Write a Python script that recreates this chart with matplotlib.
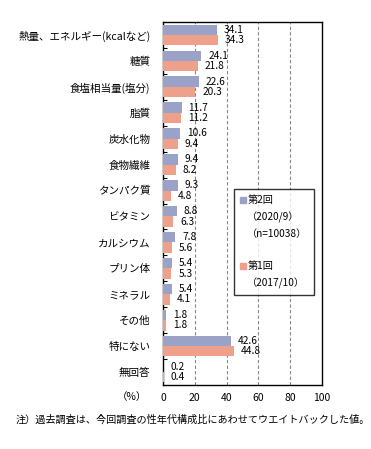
import matplotlib
matplotlib.use("Agg")
import matplotlib.pyplot as plt
from matplotlib.lines import Line2D
import numpy as np

plt.rcParams['font.family'] = ['Noto Sans CJK JP', 'DejaVu Sans']

categories = ["熱量、エネルギー(kcalなど)", "糖質", "食塩相当量(塩分)", "脂質", "炭水化物",
              "食物繊維", "タンパク質", "ビタミン", "カルシウム", "プリン体", "ミネラル",
              "その他", "特にない", "無回答"]
round2 = [34.1, 24.1, 22.6, 11.7, 10.6, 9.4, 9.3, 8.8, 7.8, 5.4, 5.4, 1.8, 42.6, 0.2]
round1 = [34.3, 21.8, 20.3, 11.2, 9.4, 8.2, 4.8, 6.3, 5.6, 5.3, 4.1, 1.8, 44.8, 0.4]
x_ticks = [0, 20, 40, 60, 80, 100]

blue = "#9BA2C8"
red = "#EFA08A"

fig = plt.figure(figsize=(3.71, 4.49), dpi=100)
ax = fig.add_axes([163 / 371, 1 - 385 / 449, 159 / 371, 363 / 449])

y = np.arange(len(categories))
h = 0.4
b2 = ax.barh(y - h / 2, round2, height=h, color=blue, zorder=3)
b1 = ax.barh(y + h / 2, round1, height=h, color=red, zorder=3)

for bars, vals in ((b2, round2), (b1, round1)):
    for bar, v in zip(bars, vals):
        ax.annotate(f"{v:.1f}", (bar.get_width(), bar.get_y() + bar.get_height() / 2),
                    xytext=(5, 0), textcoords="offset points", ha="left", va="center",
                    fontsize=7.3, color="black")

ax.set_xlim(0, 100)
ax.set_ylim(len(categories) - 0.5, -0.5)
ax.set_xticks(x_ticks)
ax.set_xticklabels([str(t) for t in x_ticks], fontsize=7.5)
ax.set_yticks(y)
ax.set_yticklabels(categories, fontsize=7.6)
ax.set_yticks(np.arange(len(categories) - 1) + 0.5, minor=True)
ax.tick_params(axis="y", which="major", length=0, pad=9)
ax.tick_params(axis="y", which="minor", direction="in", length=3, width=0.8)
ax.tick_params(axis="x", length=0, pad=6)
for s in ax.spines.values():
    s.set_linewidth(1.0)
    s.set_color("black")

for t in x_ticks[1:-1]:
    ax.axvline(t, color="#888888", linestyle=(0, (3, 2)), linewidth=0.8, zorder=1)

ax.text(-0.1, -0.032, "（%）", transform=ax.transAxes, ha="right", va="center", fontsize=7.5)
fig.text(16 / 371, 1 - 420 / 449, "注）過去調査は、今回調査の性年代構成比にあわせてウエイトバックした値。",
         ha="left", va="center", fontsize=7.3)

blank = Line2D([], [], linestyle="none")
handles = [Line2D([], [], marker="s", color=blue, linestyle="none", markersize=4),
           blank, blank, blank,
           Line2D([], [], marker="s", color=red, linestyle="none", markersize=4),
           blank]
labels = ["第2回", "（2020/9）", "（n=10038）", " ", "第1回", "（2017/10）"]
leg = ax.legend(handles, labels, loc="upper left", bbox_to_anchor=(0.447, 0.54),
                fontsize=7.3, frameon=True, fancybox=False, edgecolor="black",
                handlelength=0.6, handletextpad=0.1, labelspacing=0.62,
                borderpad=0.6, borderaxespad=0)
leg.get_frame().set_linewidth(1.0)

fig.savefig("out.png", dpi=100)
